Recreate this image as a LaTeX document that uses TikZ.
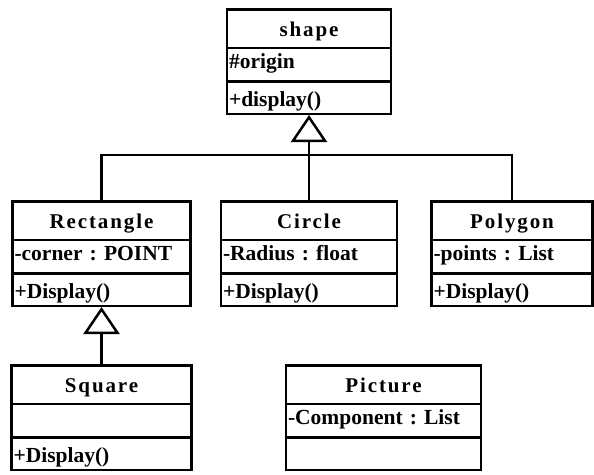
\documentclass[tikz,border=0pt]{standalone}
\usepackage{fontspec}
\setmainfont{Liberation Serif}
\usetikzlibrary{arrows.meta,positioning,shapes.multipart,calc}

% struts that fix the height of each compartment
\newcommand{\clsname}[1]{\centering\rule[-10pt]{0pt}{36pt}%
  {\fontsize{21}{21}\selectfont\bfseries\addfontfeature{LetterSpace=9}#1}\par}
\newcommand{\clsattr}[1]{\raggedright\rule[-12pt]{0pt}{31pt}#1\par}
\newcommand{\clsop}[1]{\raggedright\rule[-6pt]{0pt}{30pt}#1\par}

\begin{document}
\begin{tikzpicture}[
  x=1pt, y=1pt,
  umlclass/.style={draw, line width=2.5pt, rectangle split, rectangle split parts=3,
                   inner xsep=2pt, inner ysep=0pt,
                   font=\fontsize{21.5}{21.5}\selectfont\bfseries\frenchspacing},
  link/.style={line width=2.5pt},
  inherit/.style={link, -{Triangle[open, length=27pt, width=36pt]}},
]
  \useasboundingbox (0,0) rectangle (594,-474);

  \node[umlclass, text width=160pt, anchor=north] (shape) at (309,-8)
    {\clsname{shape} \nodepart{second} \clsattr{\#origin} \nodepart{third} \clsop{+display()}};
  \node[umlclass, text width=172pt, below=85pt of shape] (circ)
    {\clsname{Circle} \nodepart{second} \clsattr{-Radius : float} \nodepart{third} \clsop{+Display()}};
  \node[umlclass, text width=174pt, left=28pt of circ] (rect)
    {\clsname{Rectangle} \nodepart{second} \clsattr{-corner : POINT} \nodepart{third} \clsop{+Display()}};
  \node[umlclass, text width=157pt, right=32pt of circ] (poly)
    {\clsname{Polygon} \nodepart{second} \clsattr{-points : List} \nodepart{third} \clsop{+Display()}};
  \node[umlclass, text width=176pt, below=57pt of rect] (square)
    {\clsname{Square} \nodepart{second} \clsattr{} \nodepart{third} \clsop{+Display()}};
  \node[umlclass, text width=191pt, right=92pt of square] (pict)
    {\clsname{Picture} \nodepart{second} \clsattr{-Component : List} \nodepart{third} \clsop{}};

  % generalisation tree under shape
  \coordinate (bus) at ($(shape.south)+(0,-40)$);
  \draw[link] (rect.north) |- (bus) -| (poly.north);
  \draw[link] (circ.north) -- (bus);
  \draw[inherit] (bus) -- (shape.south);

  \draw[inherit] (square.north) -- (rect.south);
\end{tikzpicture}
\end{document}
